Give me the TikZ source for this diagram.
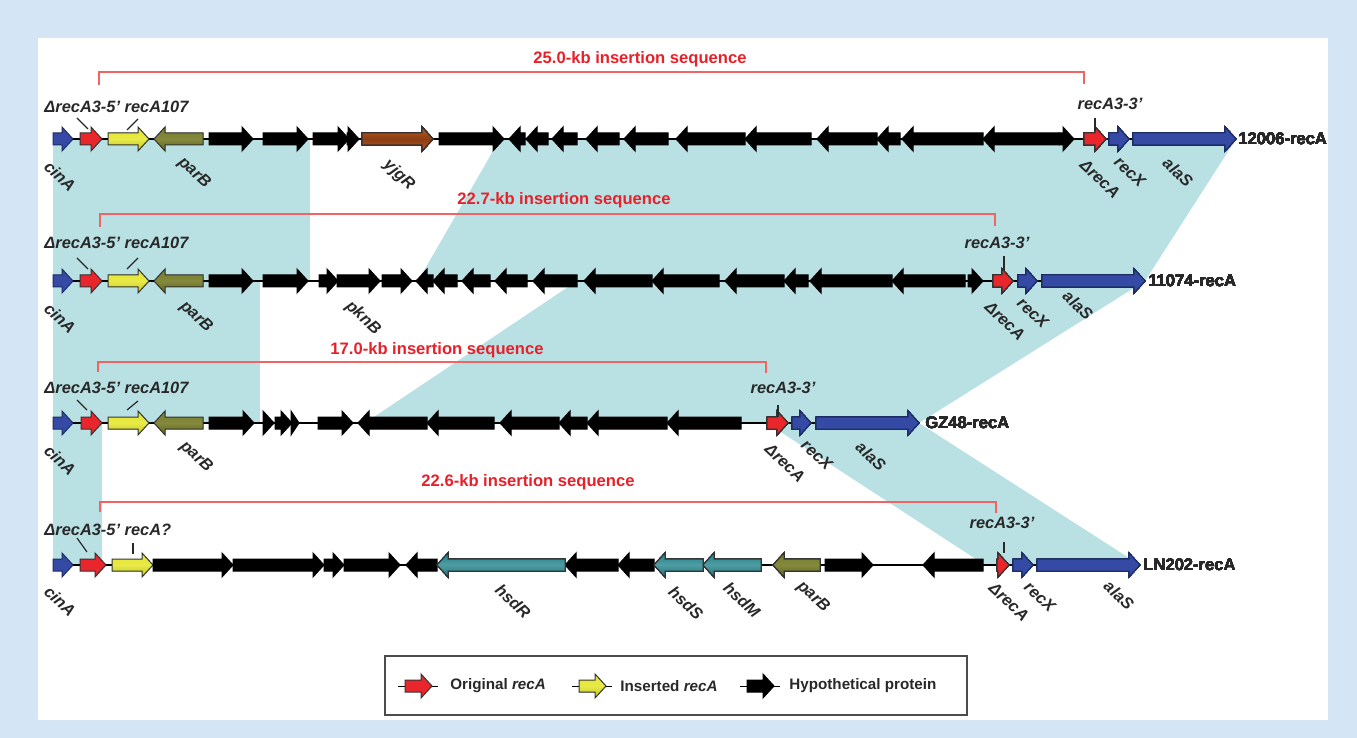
\documentclass[tikz,border=0pt]{standalone}
\usepackage{fontspec}
\setmainfont{Liberation Sans}

\definecolor{bgblue}{RGB}{212,230,245}
\definecolor{bandcol}{RGB}{185,225,228}
\definecolor{recred}{RGB}{232,38,43}
\definecolor{insyel}{RGB}{228,230,40}
\definecolor{parcol}{RGB}{118,124,40}
\definecolor{yjgcol}{RGB}{196,88,30}
\definecolor{hsdcol}{RGB}{34,132,140}
\definecolor{genblue}{RGB}{52,74,165}
\definecolor{brred}{RGB}{240,100,100}
\definecolor{txred}{RGB}{232,32,42}
\definecolor{labgray}{RGB}{40,40,40}

% one gene arrow: [style]{y}{tail x}{head x}
\newcommand\gene[4][hypo]{%
  \pgfmathsetmacro\gdir{ifthenelse(#4>#3,1,-1)}
  \pgfmathsetmacro\gbase{#4-\gdir*min(11,abs(#4-#3))}
  \filldraw[#1] (#3,#2-6) -- (\gbase,#2-6) -- (\gbase,#2-12) -- (#4,#2)
    -- (\gbase,#2+12) -- (\gbase,#2+6) -- (#3,#2+6) -- cycle;}

\begin{document}
\begin{tikzpicture}[x=0.5pt,y=-0.5pt,
  gene/.style={line width=0.5pt},
  hypo/.style={gene,fill=black,draw=black},
  origrec/.style={gene,fill=recred,draw=black!80},
  insrec/.style={gene,top color=insyel,bottom color=insyel!85!black,middle color=insyel!85!white,draw=black!80},
  parb/.style={gene,top color=parcol,bottom color=parcol!80!black,middle color=parcol!90!white,draw=black!80},
  yjg/.style={gene,top color=yjgcol,bottom color=yjgcol,middle color=yjgcol!70!black,draw=black!80},
  hsd/.style={gene,top color=hsdcol,bottom color=hsdcol!85!black,middle color=hsdcol!80!white,draw=black!80},
  blugene/.style={gene,fill=genblue,draw=genblue!60!black},
  backbone/.style={line width=0.8pt},
  band/.style={fill=bandcol},
  bracket/.style={brred,line width=0.8pt},
  tick/.style={labgray,line width=0.6pt},
  glab/.style={font=\fontsize{8.2}{9}\selectfont\bfseries\itshape,text=labgray,inner sep=0pt},
  dlab/.style={glab,rotate=-43},
  inslab/.style={font=\fontsize{8.3}{9}\selectfont\bfseries,text=txred,inner sep=0pt},
  rowlab/.style={font=\fontsize{8.3}{9}\selectfont\bfseries,text=labgray,anchor=west,inner sep=0pt},
  leglab/.style={font=\fontsize{7.6}{9}\selectfont\bfseries,text=labgray,anchor=west,inner sep=0pt}]

\useasboundingbox (0,0) rectangle (1357,738);
\fill[bgblue] (0,0) rectangle (1357,738);
\fill[white] (38,38) rectangle (1328,720);

% shared regions
\fill[band] (53,139) rectangle (310,281);
\fill[band] (53,281) rectangle (260,423);
\fill[band] (53,423) rectangle (102,565);
\fill[band] (500,139) -- (1236,139) -- (1145,281) -- (418,281) -- cycle;
\fill[band] (577,281) -- (1145,281) -- (919,423) -- (365,423) -- cycle;
\fill[band] (767,423) -- (919,423) -- (1140,565) -- (985,565) -- cycle;

% insertion brackets
\draw[bracket] (99,85) |- (1084,72) -- (1084,84);
\node[inslab] (is1) at (640,59) {25.0-kb insertion sequence};
\draw[bracket] (100,227) |- (995,214) -- (995,226);
\node[inslab] (is2) at (564,200) {22.7-kb insertion sequence};
\draw[bracket] (98,372) |- (766,362) -- (766,373);
\node[inslab] (is3) at (437,350) {17.0-kb insertion sequence};
\draw[bracket] (100,512) |- (996,502) -- (996,513);
\node[inslab] (is4) at (528,482) {22.6-kb insertion sequence};

% backbones
\draw[backbone] (53,139) -- (1236,139);
\draw[backbone] (53,281) -- (1145,281);
\draw[backbone] (53,423) -- (919,423);
\draw[backbone] (53,565) -- (1140,565);

% row 1: 12006-recA
\gene[blugene]{139}{53}{73}
\gene[origrec]{139}{80}{102}
\gene[insrec]{139}{108}{149}
\gene[parb]{139}{203}{154}
\foreach \a/\b in {209/253,263/308,313/349,347/359,439/504,525/509,548/526,577/552,
  619/586,668/624,745/676,811/745,877/817,900/877,983/902,1059/983,1059/1074}
  \gene{139}{\a}{\b}
\gene[yjg]{139}{362}{433}
\gene[origrec]{139}{1084}{1106}
\gene[blugene]{139}{1109}{1129}
\gene[blugene]{139}{1133}{1236}
\node[rowlab] (r1) at (1238,139) {12006-recA};

% row 2: 11074-recA
\gene[blugene]{281}{53}{73}
\gene[origrec]{281}{80}{102}
\gene[insrec]{281}{108}{149}
\gene[parb]{281}{203}{154}
\foreach \a/\b in {209/253,263/308,319/338,337/380,382/412,433/416,457/433,490/462,
  527/495,577/533,652/584,719/652,784/725,808/784,892/810,965/892,968/983}
  \gene{281}{\a}{\b}
\gene[origrec]{281}{993}{1013}
\gene[blugene]{281}{1018}{1037}
\gene[blugene]{281}{1042}{1145}
\node[rowlab] (r2) at (1148,281) {11074-recA};

% row 3: GZ48-recA
\gene[blugene]{423}{53}{73}
\gene[origrec]{423}{81}{102}
\gene[insrec]{423}{108}{149}
\gene[parb]{423}{203}{154}
\foreach \a/\b in {209/254,263/274,275/292,291/299,318/353,427/358,494/427,
  559/500,587/559,667/587,741/667}
  \gene{423}{\a}{\b}
\gene[origrec]{423}{767}{788}
\gene[blugene]{423}{792}{811}
\gene[blugene]{423}{816}{919}
\node[rowlab] (r3) at (925,423) {GZ48-recA};

% row 4: LN202-recA
\gene[blugene]{565}{53}{73}
\gene[origrec]{565}{80}{106}
\gene[insrec]{565}{112}{153}
\foreach \a/\b in {153/233,233/324,324/344,344/400,437/406,618/565,654/618,825/873,983/923}
  \gene{565}{\a}{\b}
\gene[hsd]{565}{565}{437}
\gene[hsd]{565}{703}{654}
\gene[hsd]{565}{761}{703}
\gene[parb]{565}{820}{773}
\gene[origrec]{565}{997}{1009}
\gene[blugene]{565}{1013}{1033}
\gene[blugene]{565}{1037}{1140}
\node[rowlab] (r4) at (1143,565) {LN202-recA};

% labels above
\node[glab,anchor=west] (up1) at (44,107) {ΔrecA3-5’ recA107};
\draw[tick] (77,118) -- (88,129);
\draw[tick] (138,119) -- (127,130);
\node[glab] (tr1) at (1110,104) {recA3-3’};
\draw[tick] (1095,118) -- (1095,131);
\node[glab,anchor=west] (up2) at (44,243) {ΔrecA3-5’ recA107};
\draw[tick] (77,258) -- (88,269);
\draw[tick] (138,258) -- (127,269);
\node[glab] (tr2) at (997,243) {recA3-3’};
\draw[tick] (1004,256) -- (1004,270);
\node[glab,anchor=west] (up3) at (44,388) {ΔrecA3-5’ recA107};
\draw[tick] (77,400) -- (87,410);
\draw[tick] (138,401) -- (127,410);
\node[glab] (tr3) at (783,388) {recA3-3’};
\draw[tick] (778,405) -- (778,417);
\node[glab,anchor=west] (up4) at (44,530) {ΔrecA3-5’ recA?};
\draw[tick] (77,538) -- (87,552);
\draw[tick] (133,543) -- (133,554);
\node[glab] (tr4) at (1002,523) {recA3-3’};
\draw[tick] (1004,542) -- (1004,553);

% labels below
\node[dlab] (cin1) at (60,176) {cinA};
\node[dlab] (par1) at (194,173) {parB};
\node[dlab] (yjg1) at (399,175) {yjgR};
\node[dlab] (dr1) at (1100,179) {ΔrecA};
\node[dlab] (rx1) at (1130,172) {recX};
\node[dlab] (al1) at (1178,172) {alaS};
\node[dlab] (cin2) at (60,318) {cinA};
\node[dlab] (par2) at (196,317) {parB};
\node[dlab] (pkn2) at (363,318) {pknB};
\node[dlab] (dr2) at (1005,321) {ΔrecA};
\node[dlab] (rx2) at (1033,313) {recX};
\node[dlab] (al2) at (1078,305) {alaS};
\node[dlab] (cin3) at (60,460) {cinA};
\node[dlab] (par3) at (196,457) {parB};
\node[dlab] (dr3) at (785,463) {ΔrecA};
\node[dlab] (rx3) at (817,455) {recX};
\node[dlab] (al3) at (871,456) {alaS};
\node[dlab] (cin4) at (60,601) {cinA};
\node[dlab] (hr4) at (513,601) {hsdR};
\node[dlab] (hs4) at (686,603) {hsdS};
\node[dlab] (hm4) at (742,600) {hsdM};
\node[dlab] (par4) at (813,597) {parB};
\node[dlab] (dr4) at (1009,602) {ΔrecA};
\node[dlab] (rx4) at (1040,597) {recX};
\node[dlab] (al4) at (1119,595) {alaS};

% legend
\draw[black!70,line width=0.8pt] (385,656) rectangle (967,715);
\draw[gene] (398,686) -- (438,686);
\gene[origrec]{686}{405}{432}
\node[leglab] (lg1) at (450,686) {Original \textit{recA}};
\draw[gene] (572,686) -- (612,686);
\gene[insrec]{686}{579}{606}
\node[leglab] (lg2) at (620,686) {Inserted \textit{recA}};
\draw[gene] (740,686) -- (780,686);
\gene{686}{747}{774}
\node[leglab] (lg3) at (789,686) {Hypothetical protein};
\end{tikzpicture}
\end{document}
